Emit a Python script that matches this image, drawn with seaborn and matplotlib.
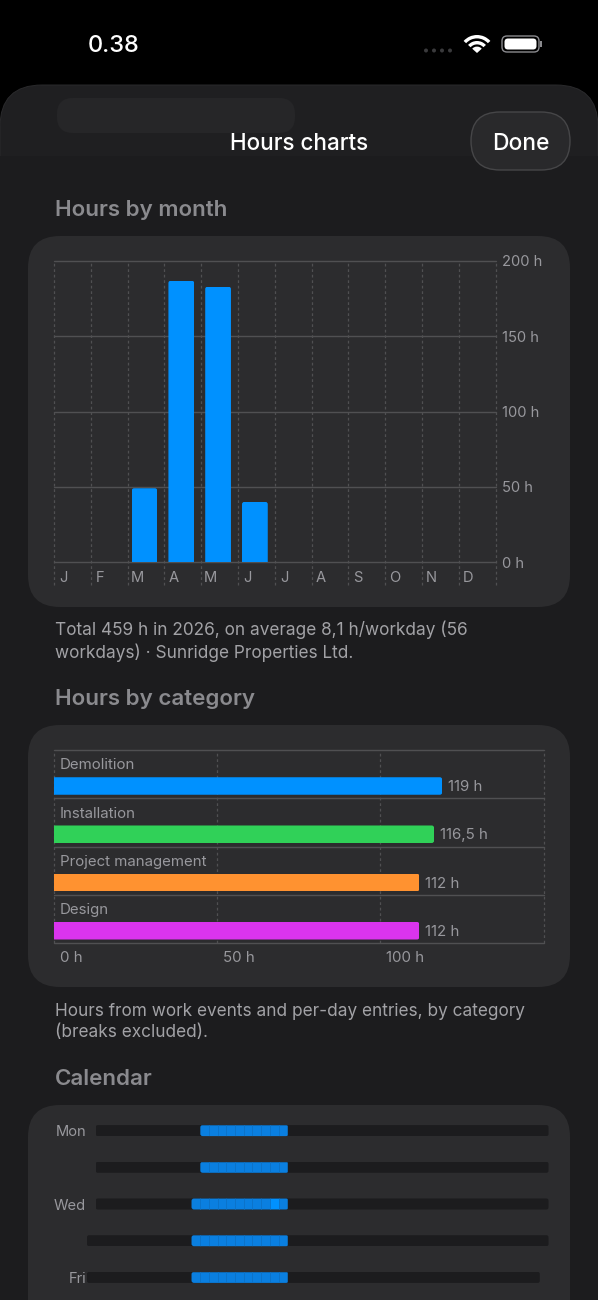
import numpy as np
import pandas as pd
import matplotlib
matplotlib.use("Agg")
import matplotlib.pyplot as plt
import seaborn as sns
from matplotlib.patches import FancyBboxPatch, Wedge, Rectangle, Circle
from matplotlib.transforms import ScaledTranslation, IdentityTransform

# ---------- data ----------
MONTH_LABELS = ["J", "F", "M", "A", "M", "J", "J", "A", "S", "O", "N", "D"]
MONTH_HOURS = [0, 0, 49, 187, 183, 40, 0, 0, 0, 0, 0, 0]
MONTH_TICKS = [0, 50, 100, 150, 200]

CATEGORIES = ["Demolition", "Installation", "Project management", "Design"]
CATEGORY_HOURS = [119, 116.5, 112, 112]
CATEGORY_VALUE_LABELS = ["119 h", "116,5 h", "112 h", "112 h"]
CATEGORY_COLORS = ["#0091FF", "#30D158", "#FF9230", "#DA34EE"]
CATEGORY_TICKS = [0, 50, 100]

WEEKDAYS = ["Mon", "", "Wed", "", "Fri"]
CAL_FIRST_WEEK = [1, 1, 1, 0, 0]
CAL_LAST_WEEK = [52, 52, 52, 52, 51]
CAL_WORK_FIRST = [13, 13, 12, 12, 12]
CAL_WORK_LAST = [22, 22, 22, 22, 22]
CAL_PEAK = (2, 21)   # Wednesday cell that holds the most hours

TITLE = "Hours charts"
NOTE_MONTH = "Total 459 h in 2026, on average 8,1 h/workday (56\nworkdays) · Sunridge Properties Ltd."
NOTE_CATEGORY = "Hours from work events and per-day entries, by category\n(breaks excluded)."

# ---------- style ----------
BLACK = "#000000"
SHEET = "#1C1C1E"
PANEL = "#2C2C2E"
GRID = "#505052"
MUTED = "#98989D"
SECTION = "#8A8A8E"
NOTE = "#A2A2A6"
BLUE_CELL = "#0A7FE0"
BLUE_EDGE = "#0C74CB"
BLUE_PEAK = "#0091FF"

W, H = 598, 1300
sns.set_theme(style="dark")
plt.rcParams["font.family"] = ["Inter", "Roboto", "DejaVu Sans"]
plt.rcParams["axes.unicode_minus"] = False
fig = plt.figure(figsize=(W / 100, H / 100), dpi=100, facecolor=BLACK)


def px_axes(left, top, right, bottom):
    ax = fig.add_axes([left / W, 1 - bottom / H, (right - left) / W, (bottom - top) / H])
    ax.patch.set_alpha(0)
    for s in ax.spines.values():
        s.set_visible(False)
    ax.grid(False)
    return ax


def px_offset(dx, dy):
    return ScaledTranslation(dx / 100, dy / 100, fig.dpi_scale_trans)


# ---------- backdrop ----------
bg = fig.add_axes([0, 0, 1, 1], zorder=0)
bg.set_xlim(0, W)
bg.set_ylim(H, 0)
bg.axis("off")


def rbox(x0, y0, x1, y1, r, **kw):
    p = FancyBboxPatch((x0 + r, y0 + r), x1 - x0 - 2 * r, y1 - y0 - 2 * r,
                       boxstyle=f"round,pad={r},rounding_size={r}", **kw)
    bg.add_patch(p)
    return p


rbox(0, 85, W, H + 80, 42, fc="#1F1F21", ec="#2A2A2C", lw=0.7)
bg.add_patch(Rectangle((0, 156), W, H, fc=SHEET, ec="none"))
rbox(57, 98, 295, 133, 16, fc="#262628", ec="none")
rbox(28, 236, 570, 607, 32, fc=PANEL, ec="none")
rbox(28, 725, 570, 987, 32, fc=PANEL, ec="none")
rbox(28, 1105, 570, H + 60, 32, fc=PANEL, ec="none")
rbox(471, 112, 570, 170, 29, fc="#29292B", ec="#464648", lw=1)

# status bar
bg.text(88, 46, "0.38", color="white", fontsize=17, fontweight="medium", va="center", ha="left")
for x in [426, 434, 442, 450]:
    bg.add_patch(Circle((x, 50.5), 2, fc="#3A3A3C", ec="none"))
for ro, wd in [(18, 3.4), (12, 3.4), (6.4, 6.4)]:
    bg.add_patch(Wedge((477, 53), ro, 222, 318, width=wd, fc="white", ec="none"))
rbox(502, 36, 539, 52, 5, fc="none", ec="#8A8A8E", lw=1)
rbox(504.5, 38.5, 536.5, 49.5, 3.5, fc="white", ec="none")
bg.add_patch(Rectangle((540, 41), 1.8, 6, fc="#8A8A8E", ec="none"))

# headings and notes
bg.text(W / 2, 144, TITLE, color="white", fontsize=16.2, fontweight="medium", ha="center", va="center")
bg.text(521, 144, "Done", color="white", fontsize=16.4, fontweight="medium", ha="center", va="center")
for y, t in [(210, "Hours by month"), (699, "Hours by category"), (1079, "Calendar")]:
    bg.text(55, y, t, color=SECTION, fontsize=16.1, fontweight="semibold", ha="left", va="center")
bg.text(55, 641, NOTE_MONTH, color=NOTE, fontsize=12.4, ha="left", va="center", linespacing=1.28)
bg.text(55, 1022, NOTE_CATEGORY, color=NOTE, fontsize=12.4, ha="left", va="center", linespacing=1.28)


def round_clip(bars, r, flat=None):
    """Clip bars to a rounded outline; `flat` keeps one side square."""
    fig.canvas.draw()
    for b in bars:
        e = b.get_window_extent()
        x0, y0, x1, y1 = e.x0, e.y0, e.x1, e.y1
        if flat == "bottom":
            y0 -= 2 * r
        if flat == "left":
            x0 -= 2 * r
        if x1 - x0 < 1 or y1 - y0 < 1:
            continue
        p = FancyBboxPatch((x0 + r, y0 + r), x1 - x0 - 2 * r, y1 - y0 - 2 * r,
                           boxstyle=f"round,pad={r},rounding_size={r}",
                           transform=IdentityTransform())
        b.set_clip_path(p.get_path(), IdentityTransform())


# ---------- hours by month ----------
ax1 = px_axes(54, 261, 495.5, 562)
ax1.set_zorder(2)
month_df = pd.DataFrame({"month": np.arange(12), "hours": MONTH_HOURS})
sns.barplot(data=month_df, x="month", y="hours", native_scale=True, color="#0091FF",
            saturation=1, width=0.7, linewidth=0, ax=ax1, zorder=3)
ax1.set_xlim(-0.46, 11.54)
ax1.set_ylim(0, 200)
ax1.set_xlabel("")
ax1.set_ylabel("")
for v in MONTH_TICKS:
    ax1.axhline(v, color=GRID, lw=1, zorder=1, clip_on=False)
edges = np.arange(13) - 0.46
ax1.vlines(edges, -15.3, 200, colors=GRID, lw=0.9, linestyles=(0, (2.2, 2.2)), zorder=1, clip_on=False)
ax1.yaxis.tick_right()
ax1.set_yticks(MONTH_TICKS, [f"{v} h" for v in MONTH_TICKS])
ax1.tick_params(axis="y", length=0, pad=4.6, labelsize=10.6, labelcolor=MUTED)
ax1.set_xticks(edges[:-1], MONTH_LABELS)
ax1.tick_params(axis="x", length=0, pad=6.5, labelsize=10.6, labelcolor=MUTED)
for lab in ax1.get_xticklabels():
    lab.set_ha("center")
    lab.set_transform(lab.get_transform() + px_offset(9.5, 0))
round_clip([b for b in ax1.patches if b.get_height() > 0], 2.5, flat="bottom")

# ---------- hours by category ----------
ax2 = px_axes(54, 750, 543.5, 943)
ax2.set_zorder(2)
cat_df = pd.DataFrame({"category": CATEGORIES, "hours": CATEGORY_HOURS})
sns.barplot(data=cat_df, y="category", x="hours", hue="category", palette=CATEGORY_COLORS,
            saturation=1, width=0.363, linewidth=0, legend=False, ax=ax2, zorder=3)
ax2.set_xlim(0, 150)
ax2.set_ylim(3.254, -0.746)
ax2.set_xlabel("")
ax2.set_ylabel("")
ax2.set_yticks([])
for i in range(5):
    ax2.axhline(i - 0.746, color=GRID, lw=1, zorder=1, clip_on=False)
ax2.vlines([0, 50, 100, 150], 3.254, -0.746, colors=GRID, lw=0.9,
           linestyles=(0, (2.2, 2.2)), zorder=1, clip_on=False)
ax2.set_xticks(CATEGORY_TICKS, [f"{v} h" for v in CATEGORY_TICKS])
ax2.tick_params(axis="x", length=0, pad=5.5, labelsize=10.8, labelcolor=MUTED)
for lab in ax2.get_xticklabels():
    lab.set_ha("left")
    lab.set_transform(lab.get_transform() + px_offset(6, 0))
for i, (c, val, txt) in enumerate(zip(CATEGORIES, CATEGORY_HOURS, CATEGORY_VALUE_LABELS)):
    ax2.annotate(c, xy=(0, i), xytext=(4.3, 14.8), textcoords="offset points", color=MUTED,
                 fontsize=10.8, ha="left", va="center")
    ax2.annotate(txt, xy=(val, i), xytext=(4.3, -0.8), textcoords="offset points", color=MUTED,
                 fontsize=10.8, ha="left", va="center", annotation_clip=False)
round_clip(list(ax2.patches), 2.5, flat="left")

# ---------- calendar ----------
ax3 = px_axes(87, 1112.25, 548.5, 1295.75)
ax3.set_zorder(2)
ax3.set_xlim(0, 53)
ax3.set_ylim(4.5, -0.5)
for row, (first, last, wf, wl) in enumerate(zip(CAL_FIRST_WEEK, CAL_LAST_WEEK, CAL_WORK_FIRST, CAL_WORK_LAST)):
    track = ax3.barh(row, last - first + 1, left=first, height=0.3, color=SHEET, lw=0, zorder=2)
    round_clip(list(track), 2)
    weeks = np.arange(wf, wl + 1)
    colors = [BLUE_PEAK if (row, w) == CAL_PEAK else BLUE_CELL for w in weeks]
    run = ax3.barh([row] * len(weeks), 1, left=weeks, height=0.3, color=colors,
                   edgecolor=BLUE_EDGE, lw=0.5, zorder=3)
    run_box = ax3.barh(row, wl - wf + 1, left=wf, height=0.3, color="none", lw=0)
    fig.canvas.draw()
    e = run_box[0].get_window_extent()
    r = 2.5
    clip = FancyBboxPatch((e.x0 + r, e.y0 + r), e.width - 1.5 * r, e.height - 2 * r,
                          boxstyle=f"round,pad={r},rounding_size={r}", transform=IdentityTransform())
    for b in run:
        b.set_clip_path(clip.get_path(), IdentityTransform())
ax3.set_yticks(range(5), WEEKDAYS)
ax3.set_xticks([])
ax3.tick_params(axis="y", length=0, pad=0.6, labelsize=10.6, labelcolor=MUTED)

fig.savefig("out.png", dpi=100, facecolor=BLACK)
